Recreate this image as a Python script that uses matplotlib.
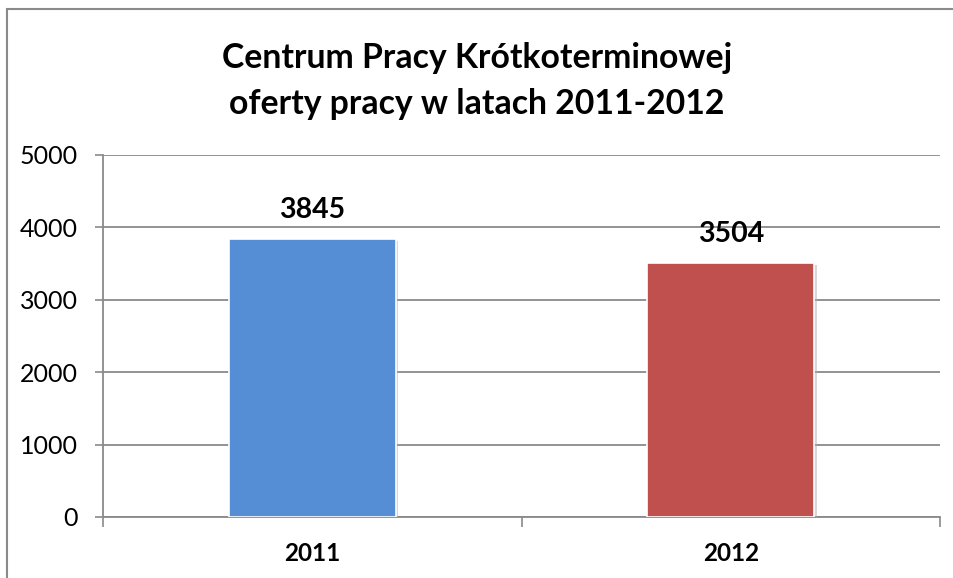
import matplotlib
matplotlib.use('Agg')
import matplotlib.pyplot as plt
import matplotlib.patheffects as pe
from matplotlib.patches import Rectangle
import numpy as np

plt.rcParams['font.family'] = ['Lato', 'Liberation Sans', 'DejaVu Sans']

lata = ['2011', '2012']
oferty = [3845, 3504]
kolory = ['#558ED5', '#C0504D']
tytul = 'Centrum Pracy Krótkoterminowej\noferty pracy w latach 2011-2012'
y_ticks = [0, 1000, 2000, 3000, 4000, 5000]

fig = plt.figure(figsize=(9.54, 5.78), dpi=100)
ax = fig.add_axes([103 / 954, 1 - 517 / 578, (940 - 103) / 954, (517 - 155) / 578])

# ramka wokol wykresu
fig.patches.append(Rectangle((7 / 954, -0.05), 1.1, 1 - 9 / 578 + 0.05, transform=fig.transFigure,
                             fill=False, edgecolor='#8a8a8a', linewidth=1.5))

x = np.arange(len(lata))
bary = ax.bar(x, oferty, width=0.4, color=kolory, edgecolor='white', linewidth=1.2, zorder=3)
for b in bary:
    b.set_path_effects([pe.SimplePatchShadow(offset=(1.5, -1.5), shadow_rgbFace='#b0b0b0', alpha=0.5), pe.Normal()])

for xi, v in zip(x, oferty):
    ax.text(xi, v + 290, str(v), ha='center', va='baseline', fontsize=20.5, fontweight='bold', zorder=4)

ax.set_xlim(-0.5, 1.5)
ax.set_ylim(0, 5000)
ax.set_yticks(y_ticks)
ax.set_yticklabels([str(t) for t in y_ticks], fontsize=18)
ax.set_xticks(x)
ax.set_xticklabels(lata, fontsize=17.5, fontweight='bold')
ax.tick_params(axis='x', length=0, pad=18)
ax.tick_params(axis='y', length=6, width=1.2, color='#8a8a8a', pad=12)
ax.set_xticks([-0.5, 0.5, 1.5], minor=True)
ax.tick_params(axis='x', which='minor', length=7, width=1.2, color='#8a8a8a')

ax.grid(axis='y', color='#8a8a8a', linewidth=1.3, zorder=0)
for s in ['top', 'right']:
    ax.spines[s].set_visible(False)
for s in ['left', 'bottom']:
    ax.spines[s].set_color('#8a8a8a')
    ax.spines[s].set_linewidth(1.3)

fig.text(0.5, 1 - 81 / 578, tytul, ha='center', va='center', fontsize=24.3, fontweight='bold', linespacing=1.55)

fig.savefig('out.png', dpi=100)
